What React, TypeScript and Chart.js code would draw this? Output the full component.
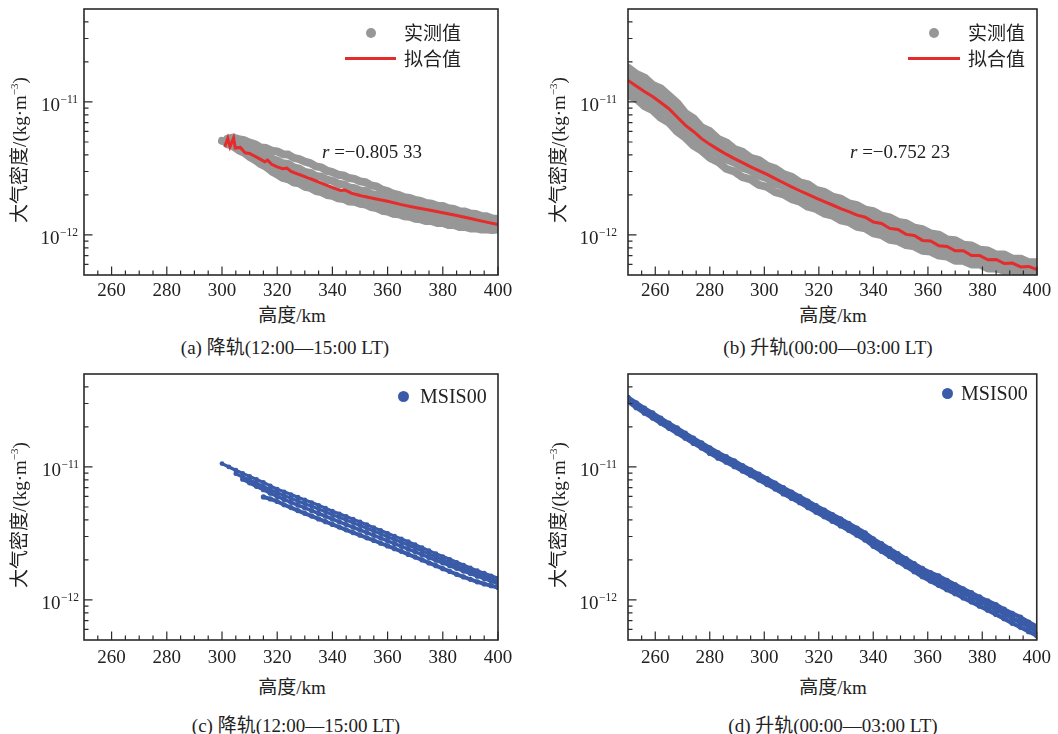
import React, { useEffect, useRef } from "react";
import { Chart, registerables } from "chart.js";

Chart.register(...registerables);

// ---------------- data (densities in units of 1e-12 kg/m^3) ----------------
const UNIT = 1e-12;
const X_MIN = 250;
const X_MAX = 400;
const Y_MIN = 5e-13;
const Y_MAX = 5e-11;
const X_TICKS = [260, 280, 300, 320, 340, 360, 380, 400];
const X_MINOR_TICKS = [255, 265, 270, 275, 285, 290, 295, 305, 310, 315, 325, 330, 335, 345, 350, 355, 365, 370, 375, 385, 390, 395];
const Y_DECADES = [1e-12, 1e-11];
const Y_EXPONENTS = ["\u221212", "\u221211"];
const Y_MINOR_TICKS = [6e-13, 7e-13, 8e-13, 9e-13, 2e-12, 3e-12, 4e-12, 5e-12, 6e-12, 7e-12, 8e-12, 9e-12, 2e-11, 3e-11, 4e-11];

// (a) descending orbit, measured
const A_ALT = [300, 302, 304, 306, 308, 310, 312, 314, 316, 318, 320, 322, 324, 326, 328, 330, 332, 334, 336, 338, 340, 342, 344, 346, 348, 350, 352, 354, 356, 358, 360, 362, 364, 366, 368, 370, 372, 374, 376, 378, 380, 382, 384, 386, 388, 390, 392, 394, 396, 398, 400];
const A_T1 = [null, 5.3, 5.4, 5.25, 5.15, 4.95, 4.8, 4.55, 4.5, 4.3, 4.25, 4.05, 4.02, 3.8, 3.72, 3.56, 3.47, 3.28, 3.22, 3.04, 2.97, 2.84, 2.8, 2.68, 2.64, 2.53, 2.49, 2.36, 2.32, 2.19, 2.14, 2.04, 2.0, 1.92, 1.9, 1.83, 1.8, 1.74, 1.72, 1.66, 1.65, 1.59, 1.57, 1.51, 1.5, 1.45, 1.44, 1.39, 1.38, 1.33, 1.32];
const A_T2 = [5.1, 5.0, 5.1, 4.85, 4.72, 4.45, 4.32, 4.05, 3.98, 3.75, 3.62, 3.46, 3.42, 3.22, 3.15, 2.98, 2.93, 2.78, 2.74, 2.6, 2.55, 2.43, 2.4, 2.28, 2.25, 2.16, 2.14, 2.03, 2.0, 1.91, 1.88, 1.8, 1.77, 1.71, 1.69, 1.63, 1.61, 1.55, 1.54, 1.49, 1.48, 1.43, 1.42, 1.37, 1.36, 1.32, 1.31, 1.27, 1.27, 1.23, 1.22];
const A_T3 = [null, 4.8, 4.7, 4.45, 4.3, 4.05, 3.9, 3.65, 3.5, 3.3, 3.15, 2.98, 2.9, 2.78, 2.7, 2.58, 2.5, 2.4, 2.33, 2.24, 2.18, 2.1, 2.05, 1.98, 1.94, 1.89, 1.85, 1.79, 1.74, 1.68, 1.64, 1.59, 1.56, 1.51, 1.49, 1.45, 1.43, 1.39, 1.37, 1.33, 1.32, 1.28, 1.27, 1.24, 1.23, 1.2, 1.19, 1.16, 1.15, 1.12, 1.13];
const A_T4 = [null, null, 4.6, 4.3, 4.12, 3.82, 3.62, 3.38, 3.22, 2.98, 2.82, 2.66, 2.6, 2.46, 2.42, 2.28, 2.24, 2.12, 2.08, 1.98, 1.95, 1.87, 1.85, 1.77, 1.76, 1.7, 1.68, 1.61, 1.58, 1.51, 1.49, 1.43, 1.42, 1.37, 1.36, 1.31, 1.3, 1.26, 1.26, 1.22, 1.22, 1.18, 1.18, 1.14, 1.14, 1.11, 1.11, 1.09, 1.09, 1.08, 1.09];
// (a) fitted
const FIT_A_ALT = [301, 302.1, 302.9, 304.2, 304.8, 306.6, 308.4, 310, 312, 314, 315.5, 316.5, 318, 320, 322, 323.5, 325, 327, 330, 333, 336, 340, 343, 344.5, 347, 350, 355, 360, 365, 370, 375, 380, 385, 390, 395, 400];
const FIT_A = [4.6, 5.33, 4.6, 5.36, 4.5, 4.55, 4.15, 4.1, 3.9, 3.7, 3.55, 3.65, 3.4, 3.25, 3.15, 3.18, 3.0, 2.9, 2.75, 2.6, 2.45, 2.27, 2.16, 2.18, 2.06, 1.98, 1.88, 1.79, 1.69, 1.61, 1.54, 1.47, 1.4, 1.33, 1.26, 1.2];

// (b) ascending orbit, measured
const B_ALT = [250, 253, 256, 259, 262, 265, 268, 271, 274, 277, 280, 283, 286, 289, 292, 295, 298, 301, 304, 307, 310, 313, 316, 319, 322, 325, 328, 331, 334, 337, 340, 343, 346, 349, 352, 355, 358, 361, 364, 367, 370, 373, 376, 379, 382, 385, 388, 391, 394, 397, 400];
const B_T1 = [18.0, 16.2, 15.2, 13.4, 12.6, 11.1, 9.8, 8.2, 7.5, 6.4, 6.0, 5.25, 4.95, 4.4, 4.2, 3.78, 3.64, 3.3, 3.14, 2.86, 2.73, 2.48, 2.39, 2.17, 2.1, 1.93, 1.87, 1.72, 1.67, 1.54, 1.5, 1.39, 1.35, 1.25, 1.22, 1.13, 1.1, 1.02, 1.0, 0.92, 0.91, 0.84, 0.83, 0.77, 0.76, 0.71, 0.71, 0.66, 0.66, 0.62, 0.62];
const B_T2 = [15.8, 14.4, 12.9, 12.0, 10.6, 9.7, 8.2, 7.3, 6.4, 5.8, 5.1, 4.8, 4.3, 4.05, 3.72, 3.52, 3.25, 3.08, 2.82, 2.66, 2.45, 2.32, 2.15, 2.04, 1.89, 1.81, 1.68, 1.61, 1.5, 1.44, 1.35, 1.29, 1.2, 1.16, 1.09, 1.06, 0.99, 0.96, 0.9, 0.88, 0.82, 0.81, 0.76, 0.75, 0.7, 0.7, 0.66, 0.65, 0.62, 0.61, 0.59];
const B_T3 = [13.0, 12.1, 10.8, 10.1, 8.9, 8.2, 7.0, 6.3, 5.5, 5.0, 4.4, 4.15, 3.72, 3.52, 3.22, 3.06, 2.8, 2.68, 2.45, 2.33, 2.13, 2.03, 1.87, 1.78, 1.65, 1.58, 1.46, 1.41, 1.3, 1.26, 1.17, 1.13, 1.04, 1.02, 0.95, 0.92, 0.86, 0.84, 0.78, 0.77, 0.72, 0.71, 0.67, 0.66, 0.62, 0.62, 0.59, 0.59, 0.56, 0.56, 0.54];
const B_T4 = [11.2, 10.6, 9.3, 8.7, 7.6, 7.0, 6.0, 5.4, 4.7, 4.3, 3.8, 3.55, 3.15, 3.0, 2.72, 2.62, 2.38, 2.3, 2.1, 2.02, 1.86, 1.78, 1.63, 1.57, 1.45, 1.4, 1.29, 1.25, 1.15, 1.12, 1.03, 1.0, 0.92, 0.9, 0.84, 0.82, 0.76, 0.75, 0.7, 0.69, 0.64, 0.64, 0.6, 0.6, 0.56, 0.56, 0.54, 0.54, 0.52, 0.52, 0.5];
// (b) fitted
const FIT_B = [14.5, 13.2, 12.0, 11.0, 9.9, 8.9, 7.7, 6.7, 6.0, 5.3, 4.8, 4.4, 4.05, 3.75, 3.5, 3.25, 3.05, 2.85, 2.65, 2.47, 2.3, 2.15, 2.02, 1.89, 1.78, 1.68, 1.58, 1.5, 1.41, 1.36, 1.25, 1.22, 1.12, 1.1, 1.01, 0.99, 0.91, 0.9, 0.83, 0.82, 0.76, 0.76, 0.7, 0.7, 0.65, 0.655, 0.61, 0.615, 0.575, 0.58, 0.55];

// (c) descending orbit, MSIS00
const C_ALT = [300, 302.5, 305, 307.5, 310, 312.5, 315, 317.5, 320, 322.5, 325, 327.5, 330, 332.5, 335, 337.5, 340, 342.5, 345, 347.5, 350, 352.5, 355, 357.5, 360, 362.5, 365, 367.5, 370, 372.5, 375, 377.5, 380, 382.5, 385, 387.5, 390, 392.5, 395, 397.5, 400];
const C_T1 = [10.6, 10.0, 9.45, 8.95, 8.5, 8.05, 7.65, 7.2, 6.8, 6.5, 6.2, 5.92, 5.65, 5.4, 5.15, 4.9, 4.65, 4.44, 4.24, 4.05, 3.86, 3.68, 3.5, 3.33, 3.17, 3.02, 2.88, 2.74, 2.6, 2.47, 2.35, 2.23, 2.12, 2.02, 1.92, 1.83, 1.74, 1.66, 1.59, 1.52, 1.46];
const C_T2 = [null, null, 8.9, 8.4, 8.0, 7.55, 7.15, 6.75, 6.4, 6.1, 5.82, 5.55, 5.3, 5.06, 4.83, 4.6, 4.38, 4.18, 3.99, 3.81, 3.63, 3.46, 3.3, 3.14, 2.99, 2.85, 2.72, 2.59, 2.46, 2.34, 2.22, 2.11, 2.01, 1.91, 1.82, 1.74, 1.66, 1.58, 1.51, 1.45, 1.39];
const C_T3 = [null, null, null, 8.1, 7.6, 7.15, 6.75, 6.35, 6.0, 5.7, 5.42, 5.16, 4.92, 4.69, 4.47, 4.26, 4.06, 3.87, 3.69, 3.52, 3.36, 3.21, 3.06, 2.92, 2.78, 2.65, 2.53, 2.41, 2.3, 2.19, 2.09, 1.99, 1.9, 1.81, 1.73, 1.65, 1.58, 1.51, 1.45, 1.39, 1.33];
const C_T4 = [null, null, null, null, null, null, 5.95, 5.75, 5.5, 5.2, 4.95, 4.7, 4.48, 4.27, 4.07, 3.88, 3.7, 3.53, 3.37, 3.21, 3.07, 2.93, 2.8, 2.67, 2.55, 2.43, 2.32, 2.2, 2.1, 2.0, 1.9, 1.81, 1.72, 1.64, 1.56, 1.49, 1.43, 1.37, 1.32, 1.28, 1.24];

// (d) ascending orbit, MSIS00
const D_ALT = [250, 253, 256, 259, 262, 265, 268, 271, 274, 277, 280, 283, 286, 289, 292, 295, 298, 301, 304, 307, 310, 313, 316, 319, 322, 325, 328, 331, 334, 337, 340, 343, 346, 349, 352, 355, 358, 361, 364, 367, 370, 373, 376, 379, 382, 385, 388, 391, 394, 397, 400];
const D_T1 = [33.3, 30.3, 27.6, 25.4, 23.2, 21.3, 19.6, 17.9, 16.4, 15.1, 13.9, 12.8, 11.9, 11.1, 10.2, 9.5, 8.8, 8.15, 7.55, 6.97, 6.45, 5.98, 5.52, 5.1, 4.73, 4.37, 4.06, 3.75, 3.46, 3.19, 2.87, 2.64, 2.42, 2.22, 2.04, 1.87, 1.72, 1.6, 1.51, 1.4, 1.3, 1.21, 1.13, 1.05, 0.98, 0.92, 0.85, 0.79, 0.74, 0.68, 0.63];
const D_T2 = [32.0, 29.1, 26.5, 24.4, 22.3, 20.5, 18.8, 17.2, 15.8, 14.5, 13.3, 12.3, 11.4, 10.6, 9.8, 9.1, 8.4, 7.8, 7.2, 6.65, 6.15, 5.7, 5.25, 4.85, 4.5, 4.15, 3.85, 3.55, 3.28, 3.02, 2.71, 2.49, 2.28, 2.09, 1.92, 1.76, 1.62, 1.5, 1.39, 1.3, 1.21, 1.13, 1.05, 0.98, 0.91, 0.85, 0.79, 0.73, 0.68, 0.63, 0.585];
const D_T3 = [31.0, 28.0, 25.5, 23.4, 21.4, 19.6, 18.0, 16.5, 15.1, 13.9, 12.7, 11.7, 10.9, 10.1, 9.35, 8.65, 8.0, 7.4, 6.85, 6.3, 5.83, 5.4, 4.97, 4.58, 4.24, 3.91, 3.62, 3.34, 3.08, 2.83, 2.54, 2.33, 2.13, 1.95, 1.79, 1.64, 1.5, 1.39, 1.29, 1.2, 1.12, 1.04, 0.97, 0.9, 0.84, 0.78, 0.725, 0.67, 0.625, 0.58, 0.54];

// ---------------- styling ----------------
const SERIF = '"Liberation Serif", "Times New Roman", serif';
const TEXT_FONT = '"Liberation Serif", "Noto Sans CJK SC", serif';
const GRAY = "#979797";
const RED = "#e52b2b";
const BLUE = "#3a5ba8";
const INK = "#222222";

const pts = (alts: number[], vals: (number | null)[]) =>
  alts.flatMap((x, i) => (vals[i] == null ? [] : [{ x, y: (vals[i] as number) * UNIT }]));

const track = (alts: number[], vals: (number | null)[], color: string, lw: number, r: number) => ({
  data: pts(alts, vals),
  showLine: true,
  borderColor: color,
  backgroundColor: color,
  borderWidth: lw,
  borderJoinStyle: "round",
  borderCapStyle: "round",
  pointRadius: r,
  pointBorderWidth: 0,
  pointHoverRadius: 0,
  clip: 0,
  order: 2,
});

const fit = (alts: number[], vals: number[]) => ({
  data: pts(alts, vals),
  showLine: true,
  borderColor: RED,
  backgroundColor: RED,
  borderWidth: 3,
  pointRadius: 0,
  clip: 0,
  order: 0,
});

const axesDeco = {
  id: "axesDeco",
  afterDraw(chart: any, _args: any, opts: any) {
    const { ctx, chartArea: a, scales } = chart;
    const x = scales.x;
    const y = scales.y;
    ctx.save();
    ctx.strokeStyle = "#2a2a2a";
    ctx.lineWidth = 1.2;
    ctx.beginPath();
    for (const v of X_MINOR_TICKS) {
      const px = x.getPixelForValue(v);
      ctx.moveTo(px, a.bottom);
      ctx.lineTo(px, a.bottom - 4.5);
    }
    for (const v of X_TICKS) {
      const px = x.getPixelForValue(v);
      ctx.moveTo(px, a.bottom);
      ctx.lineTo(px, a.bottom - 8.5);
    }
    for (const v of Y_MINOR_TICKS) {
      const py = y.getPixelForValue(v);
      ctx.moveTo(a.left, py);
      ctx.lineTo(a.left + 4.5, py);
    }
    for (const v of Y_DECADES) {
      const py = y.getPixelForValue(v);
      ctx.moveTo(a.left, py);
      ctx.lineTo(a.left + 8.5, py);
    }
    ctx.stroke();
    ctx.lineWidth = 1.6;
    ctx.strokeRect(a.left, a.top, a.right - a.left, a.bottom - a.top);
    ctx.fillStyle = INK;
    ctx.textBaseline = "alphabetic";
    ctx.textAlign = "right";
    Y_DECADES.forEach((v, i) => {
      const py = y.getPixelForValue(v);
      const xr = a.left - opts.labelGap;
      ctx.font = `11.5px ${SERIF}`;
      const sup = Y_EXPONENTS[i];
      const sw = ctx.measureText(sup).width;
      ctx.fillText(sup, xr, py + 1.5);
      ctx.font = `19px ${SERIF}`;
      ctx.fillText("10", xr - sw - 0.5, py + 9);
    });
    ctx.restore();
  },
};

type PanelCfg = {
  id: string;
  left: number;
  top: number;
  padding: { left: number; right: number; top: number; bottom: number };
  labelGap: number;
  tickPad: number;
  datasets: any[];
};

const PANELS: PanelCfg[] = [
  {
    id: "a",
    left: 0,
    top: 0,
    padding: { left: 84, right: 31, top: 9, bottom: 0 },
    labelGap: 6,
    tickPad: 5,
    datasets: [
      fit(FIT_A_ALT, FIT_A),
      track(A_ALT, A_T1, GRAY, 8, 3),
      track(A_ALT, A_T2, GRAY, 8, 3),
      track(A_ALT, A_T3, GRAY, 8, 3),
      track(A_ALT, A_T4, GRAY, 7, 3),
    ],
  },
  {
    id: "b",
    left: 529,
    top: 0,
    padding: { left: 99, right: 21, top: 9, bottom: 0 },
    labelGap: 11,
    tickPad: 5,
    datasets: [
      fit(B_ALT, FIT_B),
      track(B_ALT, B_T1, GRAY, 8.5, 3.2),
      track(B_ALT, B_T2, GRAY, 8.5, 3.2),
      track(B_ALT, B_T3, GRAY, 8.5, 3.2),
      track(B_ALT, B_T4, GRAY, 8, 3.2),
    ],
  },
  {
    id: "c",
    left: 0,
    top: 365,
    padding: { left: 84, right: 31, top: 9, bottom: 0 },
    labelGap: 5,
    tickPad: 7,
    datasets: [
      track(C_ALT, C_T1, BLUE, 3.2, 2.4),
      track(C_ALT, C_T2, BLUE, 3.2, 2.4),
      track(C_ALT, C_T3, BLUE, 3.6, 2.6),
      track(C_ALT, C_T4, BLUE, 4, 2.6),
    ],
  },
  {
    id: "d",
    left: 529,
    top: 365,
    padding: { left: 99, right: 21, top: 9, bottom: 0 },
    labelGap: 11,
    tickPad: 7,
    datasets: [
      track(D_ALT, D_T1, BLUE, 4.4, 2.8),
      track(D_ALT, D_T2, BLUE, 4.4, 2.8),
      track(D_ALT, D_T3, BLUE, 4.4, 2.8),
    ],
  },
];

function ChartPanel({ p }: { p: PanelCfg }) {
  const ref = useRef<HTMLCanvasElement>(null);
  useEffect(() => {
    if (!ref.current) return;
    const chart = new Chart(ref.current, {
      type: "scatter",
      data: { datasets: p.datasets },
      plugins: [axesDeco as any],
      options: {
        responsive: false,
        animation: false,
        devicePixelRatio: 1,
        events: [],
        layout: { padding: p.padding, autoPadding: false } as any,
        plugins: {
          legend: { display: false },
          tooltip: { enabled: false },
          axesDeco: { labelGap: p.labelGap },
        } as any,
        scales: {
          x: {
            type: "linear",
            min: X_MIN,
            max: X_MAX,
            afterBuildTicks: (s: any) => {
              s.ticks = X_TICKS.map((v) => ({ value: v }));
            },
            afterFit: (s: any) => {
              s.height = 25;
            },
            grid: { display: false, drawTicks: false },
            border: { display: false },
            ticks: {
              color: INK,
              font: { family: SERIF, size: 19 },
              padding: p.tickPad,
              maxRotation: 0,
              autoSkip: false,
              callback: (v: any) => String(v),
            },
          },
          y: { type: "logarithmic", display: false, min: Y_MIN, max: Y_MAX },
        },
      } as any,
    });
    return () => chart.destroy();
  }, [p]);
  return (
    <canvas
      ref={ref}
      width={529}
      height={300}
      style={{ position: "absolute", left: p.left, top: p.top, width: 529, height: 300 }}
    />
  );
}

const base: React.CSSProperties = { position: "absolute", whiteSpace: "nowrap", lineHeight: 1 };

function Center({ x, y, size = 19, children }: { x: number; y: number; size?: number; children: React.ReactNode }) {
  return <div style={{ ...base, left: x, top: y, fontSize: size, transform: "translate(-50%,-50%)" }}>{children}</div>;
}
function LeftMid({ x, y, size = 19, children }: { x: number; y: number; size?: number; children: React.ReactNode }) {
  return <div style={{ ...base, left: x, top: y, fontSize: size, transform: "translate(0,-50%)" }}>{children}</div>;
}
function YTitle({ x, y }: { x: number; y: number }) {
  return (
    <div style={{ ...base, left: x, top: y, fontSize: 19, transform: "translate(-50%,-50%) rotate(-90deg)" }}>
      大气密度/(kg·m<span style={{ fontSize: 11, position: "relative", top: -8 }}>{"\u22123"}</span>)
    </div>
  );
}
function Dot({ x, y, r, color }: { x: number; y: number; r: number; color: string }) {
  return <div style={{ position: "absolute", left: x - r, top: y - r, width: 2 * r, height: 2 * r, borderRadius: "50%", background: color }} />;
}
function Bar({ x1, x2, y, color }: { x1: number; x2: number; y: number; color: string }) {
  return <div style={{ position: "absolute", left: x1, top: y - 1.5, width: x2 - x1, height: 3, background: color }} />;
}

export default function App() {
  return (
    <div
      style={{
        position: "absolute",
        left: 0,
        top: 0,
        width: 1058,
        height: 734,
        background: "#fff",
        overflow: "hidden",
        fontFamily: TEXT_FONT,
        color: INK,
      }}
    >
      {PANELS.map((p) => (
        <ChartPanel key={p.id} p={p} />
      ))}

      <YTitle x={19} y={150} />
      <YTitle x={558} y={150} />
      <YTitle x={19} y={515} />
      <YTitle x={558} y={515} />

      <Center x={292} y={315}>高度/km</Center>
      <Center x={833} y={315}>高度/km</Center>
      <Center x={292} y={687}>高度/km</Center>
      <Center x={833} y={687}>高度/km</Center>

      <Center x={285} y={347}>(a) 降轨(12:00—15:00 LT)</Center>
      <Center x={828} y={347}>(b) 升轨(00:00—03:00 LT)</Center>
      <Center x={296} y={725}>(c) 降轨(12:00—15:00 LT)</Center>
      <Center x={833} y={725}>(d) 升轨(00:00—03:00 LT)</Center>

      <LeftMid x={322} y={151}>
        <i>r</i> =−0.805 33
      </LeftMid>
      <LeftMid x={850} y={151}>
        <i>r</i> =−0.752 23
      </LeftMid>

      <Dot x={371} y={33} r={5} color={GRAY} />
      <LeftMid x={404} y={33}>实测值</LeftMid>
      <Bar x1={345} x2={396} y={58.5} color={RED} />
      <LeftMid x={404} y={59}>拟合值</LeftMid>

      <Dot x={934} y={33} r={5} color={GRAY} />
      <LeftMid x={968} y={33}>实测值</LeftMid>
      <Bar x1={908} x2={960} y={58.5} color={RED} />
      <LeftMid x={968} y={59}>拟合值</LeftMid>

      <Dot x={403} y={396} r={5.5} color={BLUE} />
      <LeftMid x={420} y={396} size={20}>MSIS00</LeftMid>
      <Dot x={947} y={393} r={5.5} color={BLUE} />
      <LeftMid x={961} y={393} size={20}>MSIS00</LeftMid>
    </div>
  );
}
